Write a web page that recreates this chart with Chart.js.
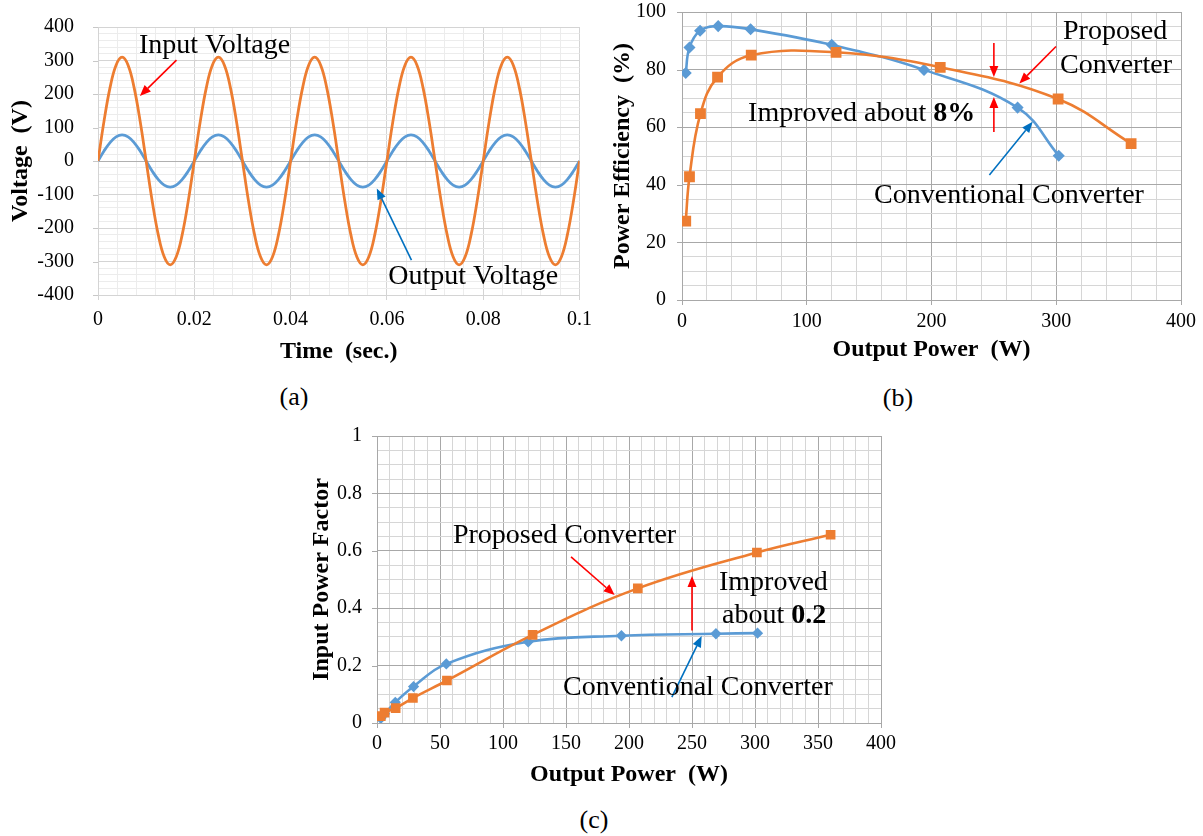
<!DOCTYPE html>
<html>
<head>
<meta charset="utf-8">
<script src="https://cdn.jsdelivr.net/npm/chart.js@4/dist/chart.umd.min.js"></script>
<style>
  body { margin: 0; background: #fff; width: 1203px; height: 836px; position: relative; overflow: hidden; }
  canvas { position: absolute; }
  .cap { position: absolute; width: 80px; text-align: center; font: 26px "Liberation Serif", serif; line-height: 30px; color: #000; }
</style>
</head>
<body>
<canvas id="chartA" width="600" height="370" style="left:0;top:0"></canvas>
<canvas id="chartB" width="603" height="370" style="left:600px;top:0"></canvas>
<canvas id="chartC" width="603" height="370" style="left:300px;top:420px"></canvas>
<div class="cap" style="left:254px;top:382px">(a)</div>
<div class="cap" style="left:858px;top:383px">(b)</div>
<div class="cap" style="left:554px;top:805px">(c)</div>
<script>
// (a) waveforms, every 1.25 ms
const timeSec = [
  0, 0.00125, 0.0025, 0.00375, 0.005, 0.00625, 0.0075, 0.00875, 0.01, 0.01125, 0.0125, 0.01375, 0.015, 0.01625, 0.0175, 0.01875,
  0.02, 0.02125, 0.0225, 0.02375, 0.025, 0.02625, 0.0275, 0.02875, 0.03, 0.03125, 0.0325, 0.03375, 0.035, 0.03625, 0.0375, 0.03875,
  0.04, 0.04125, 0.0425, 0.04375, 0.045, 0.04625, 0.0475, 0.04875, 0.05, 0.05125, 0.0525, 0.05375, 0.055, 0.05625, 0.0575, 0.05875,
  0.06, 0.06125, 0.0625, 0.06375, 0.065, 0.06625, 0.0675, 0.06875, 0.07, 0.07125, 0.0725, 0.07375, 0.075, 0.07625, 0.0775, 0.07875,
  0.08, 0.08125, 0.0825, 0.08375, 0.085, 0.08625, 0.0875, 0.08875, 0.09, 0.09125, 0.0925, 0.09375, 0.095, 0.09625, 0.0975, 0.09875,
  0.1
];
const inputVoltage = [
  0, 119, 219, 286, 310, 286, 219, 119, 0, -119, -219, -286, -310, -286, -219, -119,
  0, 119, 219, 286, 310, 286, 219, 119, 0, -119, -219, -286, -310, -286, -219, -119,
  0, 119, 219, 286, 310, 286, 219, 119, 0, -119, -219, -286, -310, -286, -219, -119,
  0, 119, 219, 286, 310, 286, 219, 119, 0, -119, -219, -286, -310, -286, -219, -119,
  0, 119, 219, 286, 310, 286, 219, 119, 0, -119, -219, -286, -310, -286, -219, -119,
  0
];
const outputVoltage = [
  0, 30, 55, 72, 78, 72, 55, 30, 0, -30, -55, -72, -78, -72, -55, -30,
  0, 30, 55, 72, 78, 72, 55, 30, 0, -30, -55, -72, -78, -72, -55, -30,
  0, 30, 55, 72, 78, 72, 55, 30, 0, -30, -55, -72, -78, -72, -55, -30,
  0, 30, 55, 72, 78, 72, 55, 30, 0, -30, -55, -72, -78, -72, -55, -30,
  0, 30, 55, 72, 78, 72, 55, 30, 0, -30, -55, -72, -78, -72, -55, -30,
  0
];

// (b) and (c) measured points
const convPower = [3, 6, 14.5, 29, 55, 120, 194, 269, 302];
const propPower = [3, 6, 14.8, 28.5, 55.5, 123.5, 207, 301.5, 360];
const convEfficiency = [78.8, 87.7, 93.5, 95.1, 94.0, 88.6, 79.9, 66.8, 50.1];
const propEfficiency = [27.4, 42.8, 64.7, 77.4, 85.0, 86.0, 80.8, 69.8, 54.3];
const convPF = [0.016, 0.032, 0.072, 0.127, 0.206, 0.283, 0.304, 0.311, 0.313];
const propPF = [0.024, 0.036, 0.052, 0.087, 0.148, 0.307, 0.469, 0.594, 0.656];

const ORANGE = "#ED7D31";
const BLUE = "#5B9BD5";
const SERIF = '"Liberation Serif", "Times New Roman", serif';
Chart.defaults.font.family = SERIF;

const pts = (xs, ys) => xs.map((x, i) => ({ x, y: ys[i] }));
const fmtNum = (v) => String(Number(v.toFixed(4)));
const majorEvery = (major) => (v) => Math.abs(v / major - Math.round(v / major)) < 1e-6;

// Excel-like axis: ticks at every minor step, labels + darker lines on majors only
// y axes: label gap done with tickLength (ticks.padding would push the plot top down)
function gridScale(min, max, step, major, o) {
  const isMajor = majorEvery(major);
  return {
    type: "linear",
    min, max,
    afterFit: (s) => { if (o.width) s.width = o.width; if (o.height) s.height = o.height; },
    ticks: {
      stepSize: step, autoSkip: false, maxTicksLimit: 1000, maxRotation: 0,
      padding: o.pad, color: "#000", font: { family: SERIF, size: 20 },
      callback: (v) => (isMajor(v) ? fmtNum(v) : ""),
    },
    grid: {
      color: (c) => (c.tick && o.zero && Math.abs(c.tick.value) < 1e-9 ? o.zero
        : c.tick && isMajor(c.tick.value) ? o.major : o.minor),
      tickColor: (c) => (!o.gap && c.tick && isMajor(c.tick.value) ? o.major : "rgba(0,0,0,0)"),
      tickLength: o.gap || 5, lineWidth: 1,
    },
    border: { color: o.major },
    title: {
      display: true, text: o.title, color: "#000",
      font: { family: SERIF, size: 24, weight: "bold" },
      padding: o.titlePad,
    },
  };
}

function drawArrow(ctx, x1, y1, x2, y2, color) {
  const a = Math.atan2(y2 - y1, x2 - x1), L = 11, W = 4.5;
  const bx = x2 - L * Math.cos(a), by = y2 - L * Math.sin(a);
  ctx.strokeStyle = color; ctx.fillStyle = color; ctx.lineWidth = 1.6;
  ctx.beginPath(); ctx.moveTo(x1, y1); ctx.lineTo(bx, by); ctx.stroke();
  ctx.beginPath();
  ctx.moveTo(x2, y2);
  ctx.lineTo(bx - W * Math.sin(a), by + W * Math.cos(a));
  ctx.lineTo(bx + W * Math.sin(a), by - W * Math.cos(a));
  ctx.closePath(); ctx.fill();
}

// notes are placed in data units and converted with the chart's scales
function notesPlugin(texts, arrows, tickColor, yMajor) {
  const isMajor = majorEvery(yMajor);
  return {
    id: "notes",
    afterDatasetsDraw(chart) {
      const { ctx, scales: { x, y } } = chart;
      ctx.save();
      // short outside tick marks on the y axis majors
      ctx.strokeStyle = tickColor; ctx.lineWidth = 1;
      y.ticks.forEach((t) => {
        if (!isMajor(t.value)) return;
        const py = Math.round(y.getPixelForValue(t.value)) + 0.5;
        ctx.beginPath(); ctx.moveTo(y.right - 5, py); ctx.lineTo(y.right, py); ctx.stroke();
      });
      arrows.forEach((a) => drawArrow(ctx, x.getPixelForValue(a[0]), y.getPixelForValue(a[1]),
        x.getPixelForValue(a[2]), y.getPixelForValue(a[3]), a[4]));
      ctx.textBaseline = "alphabetic"; ctx.textAlign = "left"; ctx.fillStyle = "#000";
      texts.forEach((t) => {
        let px = x.getPixelForValue(t.x);
        const py = y.getPixelForValue(t.y);
        t.parts.forEach(([str, bold]) => {
          ctx.font = (bold ? "bold " : "") + "28px " + SERIF;
          ctx.fillText(str, px, py);
          px += ctx.measureText(str).width;
        });
      });
      ctx.restore();
    },
  };
}

const baseOptions = (padding, scales) => ({
  responsive: false, animation: false, devicePixelRatio: 1,
  layout: { padding },
  plugins: { legend: { display: false }, tooltip: { enabled: false } },
  scales,
});

new Chart(document.getElementById("chartA"), {
  type: "line",
  data: {
    datasets: [
      { data: pts(timeSec, inputVoltage), borderColor: ORANGE, pointRadius: 0, tension: 0.4, borderWidth: 2.8 },
      { data: pts(timeSec, outputVoltage), borderColor: BLUE, pointRadius: 0, tension: 0.4, borderWidth: 2.8 },
    ],
  },
  options: baseOptions({ left: 0, top: 27, right: 18, bottom: 0 }, {
    x: gridScale(0, 0.1, 0.004, 0.02, { height: 75, pad: 8, major: "#d4d4d4", minor: "#ececec", title: "Time  (sec.)", titlePad: { bottom: 4 } }),
    y: gridScale(-400, 400, 20, 100, { width: 98, pad: 0, gap: 24, major: "#d4d4d4", minor: "#ececec", zero: "#b0b0b0", title: "Voltage  (V)", titlePad: { top: 6 } }),
  }),
  plugins: [notesPlugin(
    [
      { x: 0.0085, y: 323, parts: [["Input Voltage", false]] },
      { x: 0.0603, y: -368, parts: [["Output Voltage", false]] },
    ],
    [
      [0.0163, 301, 0.0087, 194, "#FF0000"],
      [0.0651, -296, 0.0579, -82, "#0070C0"],
    ],
    "#c8c8c8", 100
  )],
});

new Chart(document.getElementById("chartB"), {
  type: "line",
  data: {
    datasets: [
      { data: pts(propPower, propEfficiency), borderColor: ORANGE, backgroundColor: ORANGE, pointStyle: "rect", pointRadius: 5.8, tension: 0.4, borderWidth: 2.6 },
      { data: pts(convPower, convEfficiency), borderColor: BLUE, backgroundColor: BLUE, pointStyle: "rectRot", pointRadius: 4.2, tension: 0.4, borderWidth: 2.6 },
    ],
  },
  options: baseOptions({ left: 0, top: 12, right: 22, bottom: 0 }, {
    x: gridScale(0, 400, 20, 100, { height: 70, pad: 5, major: "#a8a8a8", minor: "#d6d6d6", title: "Output Power  (W)", titlePad: { bottom: 6 } }),
    y: gridScale(0, 100, 5, 20, { width: 82, pad: 0, gap: 16, major: "#a8a8a8", minor: "#d6d6d6", title: "Power Efficiency  (%)", titlePad: { top: 8 } }),
  }),
  plugins: [notesPlugin(
    [
      { x: 305.4, y: 90.6, parts: [["Proposed", false]] },
      { x: 303, y: 78.9, parts: [["Converter", false]] },
      { x: 53, y: 62.3, parts: [["Improved about ", false], ["8%", true]] },
      { x: 154, y: 33.8, parts: [["Conventional Converter", false]] },
    ],
    [
      [250, 89.2, 250, 77.4, "#FF0000"],
      [250, 58.3, 250, 70.5, "#FF0000"],
      [299.8, 88, 270.4, 75.2, "#FF0000"],
      [246.4, 43.4, 281.1, 61.9, "#0070C0"],
    ],
    "#a8a8a8", 20
  )],
});

new Chart(document.getElementById("chartC"), {
  type: "line",
  data: {
    datasets: [
      { data: pts(propPower, propPF), borderColor: ORANGE, backgroundColor: ORANGE, pointStyle: "rect", pointRadius: 5, tension: 0.4, borderWidth: 2.6 },
      { data: pts(convPower, convPF), borderColor: BLUE, backgroundColor: BLUE, pointStyle: "rectRot", pointRadius: 3.8, tension: 0.4, borderWidth: 2.6 },
    ],
  },
  options: baseOptions({ left: 0, top: 16, right: 22, bottom: 0 }, {
    x: gridScale(0, 400, 10, 50, { height: 67, pad: 4, major: "#a8a8a8", minor: "#d6d6d6", title: "Output Power  (W)", titlePad: { bottom: 1 } }),
    y: gridScale(0, 1, 0.05, 0.2, { width: 77, pad: 0, gap: 15, major: "#a8a8a8", minor: "#d6d6d6", title: "Input Power Factor", titlePad: { top: 7 } }),
  }),
  plugins: [notesPlugin(
    [
      { x: 60.3, y: 0.627, parts: [["Proposed Converter", false]] },
      { x: 271.4, y: 0.463, parts: [["Improved", false]] },
      { x: 273.8, y: 0.349, parts: [["about ", false], ["0.2", true]] },
      { x: 147.6, y: 0.0976, parts: [["Conventional Converter", false]] },
    ],
    [
      [154, 0.579, 188.6, 0.446, "#FF0000"],
      [250, 0.322, 250, 0.512, "#FF0000"],
      [234, 0.09, 257.7, 0.303, "#0070C0"],
    ],
    "#a8a8a8", 0.2
  )],
});
</script>
</body>
</html>
